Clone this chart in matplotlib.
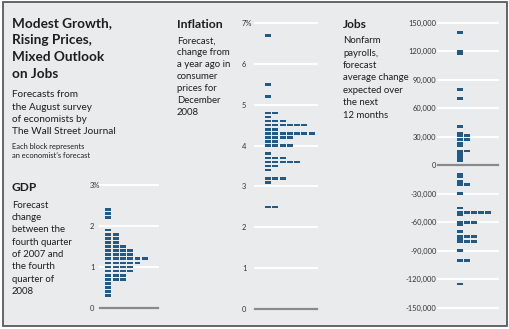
import numpy as np
import matplotlib
matplotlib.use('Agg')
from matplotlib import pyplot as plt
from matplotlib.patches import Rectangle

#   Dati: valore della riga e numero di blocchi
gdp_rows = [2.4, 2.3, 2.2, 1.9, 1.8, 1.7, 1.6, 1.5, 1.4, 1.3, 1.2, 1.1, 1.0,
            0.9, 0.8, 0.7, 0.6, 0.5, 0.4, 0.3]
gdp_counts = [1, 1, 1, 1, 2, 2, 2, 3, 4, 4, 6, 5, 4, 4, 3, 3, 1, 1, 1, 1]

infl_rows = [6.7, 5.5, 5.2, 4.8, 4.7, 4.6, 4.5, 4.4, 4.3, 4.2, 4.1, 4.0,
             3.8, 3.7, 3.6, 3.5, 3.4, 3.2, 3.1, 2.5]
infl_counts = [1, 1, 1, 2, 1, 3, 6, 2, 7, 4, 2, 4, 1, 3, 5, 2, 1, 3, 1, 2]

jobs_rows = [140, 120, 117.5, 80, 70, 41, 34, 31.5, 27, 23, 20.5, 15, 12.5,
             10, 7.5, 5, -10, -12.5, -17.5, -20, -30, -45, -50, -52.5, -60,
             -62.5, -70, -75, -77.5, -80, -90, -100, -125]
jobs_counts = [1, 1, 1, 1, 1, 1, 1, 2, 2, 1, 1, 2, 1, 1, 1, 1, 1, 1, 1, 2,
               1, 1, 5, 1, 3, 1, 1, 3, 1, 3, 1, 2, 1]

gdp_ticks = [0, 1, 2, 3]
gdp_labels = ['0', '1', '2', '3%']
infl_ticks = [0, 1, 2, 3, 4, 5, 6, 7]
infl_labels = ['0', '1', '2', '3', '4', '5', '6', '7%']
jobs_ticks = [150, 120, 90, 60, 30, 0, -30, -60, -90, -120, -150]
jobs_labels = ['150,000', '120,000', '90,000', '60,000', '30,000', '0',
               '-30,000', '-60,000', '-90,000', '-120,000', '-150,000']

title_lines = ['Modest Growth,', 'Rising Prices,', 'Mixed Outlook', 'on Jobs']
sub_lines = ['Forecasts from', 'the August survey', 'of economists by',
             'The Wall Street Journal']
note_lines = ['Each block represents', "an economist\u2019s forecast"]
gdp_desc = ['Forecast', 'change', 'between the', 'fourth quarter',
            'of 2007 and', 'the fourth', 'quarter of', '2008']
infl_desc = ['Forecast,', 'change from', 'a year ago in', 'consumer',
             'prices for', 'December', '2008']
jobs_desc = ['Nonfarm', 'payrolls,', 'forecast', 'average change',
             'expected over', 'the next', '12 months']

W, H = 510, 329
BG = '#e9ebed'
BLUE = '#1f5a88'
TXT = '#1e1e1e'
FONT = ['Lato', 'DejaVu Sans']

fig = plt.figure(figsize=(W / 100, H / 100), dpi=100, facecolor='white')
fig.add_artist(Rectangle((3 / W, 1 - 326 / H), 504 / W, 324.5 / H,
                         transform=fig.transFigure, facecolor=BG,
                         edgecolor='#5a5a5a', linewidth=1.3, zorder=-10))


def ftext(x, y, s, **kw):
    #   Testo in coordinate pixel (origine in alto a sinistra)
    kw.setdefault('family', FONT)
    kw.setdefault('color', TXT)
    fig.text(x / W, 1 - y / H, s, va='baseline', ha='left', **kw)


def lines(x, y0, step, rows, **kw):
    for i, s in enumerate(rows):
        ftext(x, y0 + i * step, s, **kw)


def pannello(x0, x1, ytop, ybot, vmax, vmin, colx, step, rows, counts, bh,
             bw, ticks, labels, lab_off, lab_ha):
    ax = fig.add_axes([x0 / W, 1 - ybot / H, (x1 - x0) / W, (ybot - ytop) / H])
    ax.set_xlim((x0 - colx) / step, (x1 - colx) / step)
    ax.set_ylim(vmin, vmax)
    ax.axis('off')
    for t, lab in zip(ticks, labels):
        if t == 0:
            ax.axhline(t, color='#8a8a8a', lw=1.6, zorder=1, clip_on=False)
        else:
            ax.axhline(t, color='white', lw=1.4, zorder=1, clip_on=False)
        ax.annotate(lab, xy=(0, t), xycoords=('axes fraction', 'data'),
                    xytext=(lab_off, 0), textcoords='offset pixels',
                    ha=lab_ha, va='center_baseline', fontsize=5.4,
                    color='#333333', family=FONT)
    for v, n in zip(rows, counts):
        ax.bar(np.arange(n), bh, bottom=v - bh / 2, width=bw, align='edge',
               color=BLUE, linewidth=0, zorder=2)
    return ax


#   Testi
lines(12, 27.5, 16.7, title_lines, fontsize=9.8, weight='bold')
lines(12, 97.5, 12.3, sub_lines, fontsize=7.2)
lines(12, 149, 9, note_lines, fontsize=5.4)
ftext(12, 191, 'GDP', fontsize=8.6, weight='bold')
lines(12, 207.8, 12.3, gdp_desc, fontsize=6.9)
ftext(177, 28.5, 'Inflation', fontsize=8.8, weight='bold')
lines(177, 43.5, 11.9, infl_desc, fontsize=6.9)
ftext(343, 28, 'Jobs', fontsize=8.6, weight='bold')
lines(343, 43, 12.5, jobs_desc, fontsize=6.9)

#   Grafici a blocchi
pannello(100, 158, 185, 308, 3, 0, 105.3, 7.3, gdp_rows, gdp_counts,
         0.065, 0.82, gdp_ticks, gdp_labels, -10, 'left')
pannello(255, 317, 23, 309, 7, 0, 265, 7.3, infl_rows, infl_counts,
         0.065, 0.82, infl_ticks, infl_labels, -13, 'left')
pannello(438, 498, 22.7, 307.7, 150, -150, 457.3, 7, jobs_rows, jobs_counts,
         2.8, 0.78, jobs_ticks, jobs_labels, -1.5, 'right')

fig.savefig('out.png', dpi=100, facecolor='white')
